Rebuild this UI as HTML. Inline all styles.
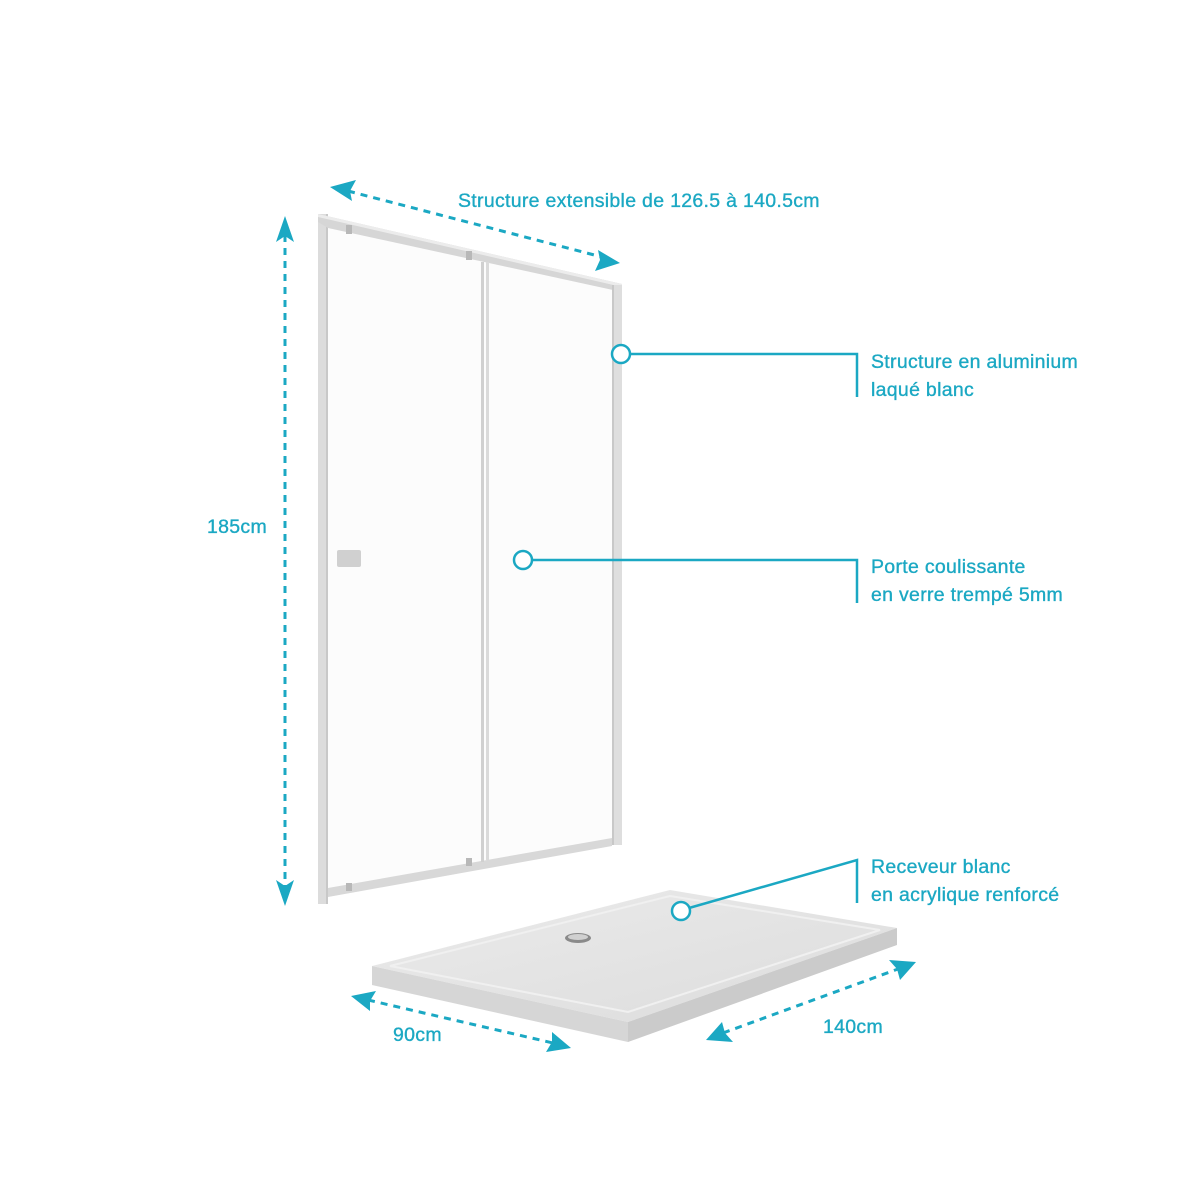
<!DOCTYPE html>
<html><head><meta charset="utf-8"><style>
html,body{margin:0;padding:0;background:#fff;}
svg{display:block}
text{font-family:"Liberation Sans Narrow","Liberation Sans",sans-serif;fill:#1ba8c3;stroke:#1ba8c3;stroke-width:0.35;font-size:19.5px;letter-spacing:0.3px;}
</style></head><body>
<svg width="1200" height="1200" viewBox="0 0 1200 1200" xmlns="http://www.w3.org/2000/svg">
<defs>
<linearGradient id="tr" x1="0" y1="0" x2="1" y2="1">
<stop offset="0" stop-color="#ebebeb"/><stop offset="1" stop-color="#dcdcdc"/></linearGradient>
</defs>
<polygon points="328,224 612,290 612,845 328,895" fill="#fcfcfc"/>
<rect x="318" y="214" width="10" height="690" fill="#dcdcdc"/>
<rect x="326" y="214" width="2" height="690" fill="#c8c8c8"/>
<polygon points="318,214 622,284 622,292 328,228 318,222" fill="#d6d6d6"/>
<polygon points="318,214 622,284 622,287 318,217" fill="#ececec"/>
<rect x="612" y="285" width="10" height="560" fill="#dedede"/>
<rect x="612" y="285" width="2" height="560" fill="#c8c8c8"/>
<polygon points="328,888 612,838 612,846 328,897" fill="#d8d8d8"/>
<rect x="481" y="262" width="3" height="600" fill="#d0d0d0"/>
<rect x="486" y="262" width="3" height="598" fill="#dadada"/>
<rect x="346" y="225" width="6" height="9" fill="#b8b8b8"/>
<rect x="466" y="251" width="6" height="9" fill="#b8b8b8"/>
<rect x="346" y="883" width="6" height="8" fill="#b8b8b8"/>
<rect x="466" y="858" width="6" height="8" fill="#b8b8b8"/>
<rect x="337" y="550" width="24" height="17" rx="2" fill="#d0d0d0"/>
<polygon points="372,966 670,890 897,928 628,1022" fill="url(#tr)"/>
<polygon points="390,966 670,896 880,930 628,1012" fill="none" stroke="#f0f0f0" stroke-width="2"/>
<polygon points="372,966 628,1022 628,1042 372,985" fill="#d6d6d6"/>
<polygon points="628,1022 897,928 897,945 628,1042" fill="#cbcbcb"/>
<ellipse cx="578" cy="938" rx="13" ry="5" fill="#8a8a8a"/>
<ellipse cx="578" cy="937" rx="10" ry="3" fill="#d0d0d0"/>
<g stroke="#1ba8c3" stroke-width="3" stroke-dasharray="7,6" fill="none">
<line x1="285" y1="235" x2="285" y2="890"/>
<line x1="348" y1="191" x2="602" y2="257"/>
<line x1="368" y1="1000" x2="553" y2="1043"/>
<line x1="723" y1="1033" x2="898" y2="969"/>
</g>
<g fill="#1ba8c3">
<polygon points="285,216 276,242 285,236 294,242"/>
<polygon points="285,906 276,880 285,886 294,880"/>
<polygon points="330,187 356,180 350,191 352,201"/>
<polygon points="620,263 595,271 600,260 598,250"/>
<polygon points="351,996 376,991 370,1001 370,1011"/>
<polygon points="571,1048 546,1052 552,1042 552,1032"/>
<polygon points="706,1040 722,1022 725,1033 733,1042"/>
<polygon points="916,962 900,980 897,969 889,960"/>
</g>
<g stroke="#1ba8c3" stroke-width="2.5" fill="none">
<polyline points="630,354 857,354 857,397"/>
<polyline points="532,560 857,560 857,603"/>
<polyline points="689,908 857,860 857,903"/>
</g>
<g stroke="#1ba8c3" stroke-width="2.5" fill="#fff">
<circle cx="621" cy="354" r="9"/>
<circle cx="523" cy="560" r="9"/>
<circle cx="681" cy="911" r="9"/>
</g>
<text x="458" y="207">Structure extensible de 126.5 à 140.5cm</text>
<text x="207" y="533">185cm</text>
<text x="393" y="1041">90cm</text>
<text x="823" y="1033">140cm</text>
<text x="871" y="368">Structure en aluminium</text>
<text x="871" y="396">laqué blanc</text>
<text x="871" y="573">Porte coulissante</text>
<text x="871" y="601">en verre trempé 5mm</text>
<text x="871" y="873">Receveur blanc</text>
<text x="871" y="901">en acrylique renforcé</text>
</svg>
</body></html>
